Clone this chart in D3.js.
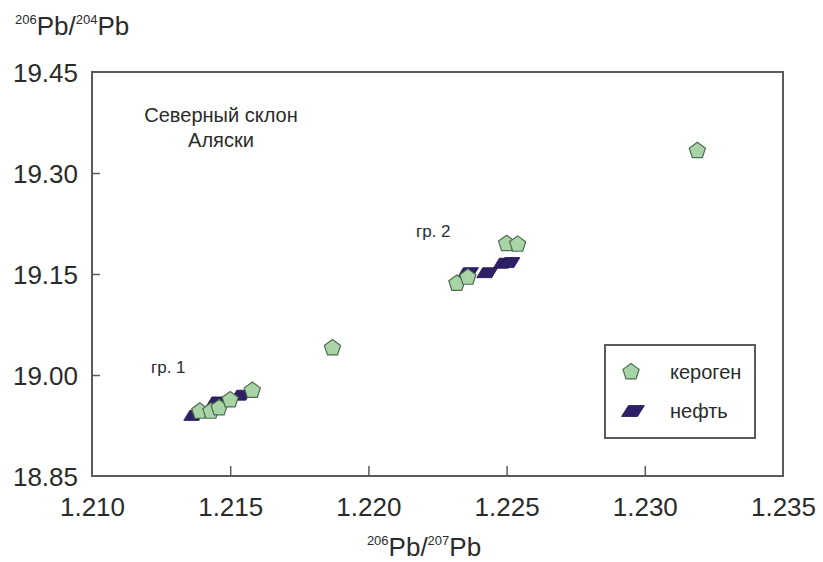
<!DOCTYPE html>
<html>
<head>
<meta charset="utf-8">
<script src="https://cdn.jsdelivr.net/npm/d3@7/dist/d3.min.js"></script>
<style>
  html, body { margin: 0; padding: 0; background: #fff; }
  svg { display: block; font-family: "Liberation Sans", Arial, sans-serif; }
</style>
</head>
<body>
<svg id="chart" width="823" height="562"></svg>
<script>
// Kerogen samples (206Pb/207Pb, 206Pb/204Pb)
const kerogenX = [1.2139, 1.2143, 1.2146, 1.2150, 1.2158, 1.2187, 1.2232, 1.2236, 1.2250, 1.2254, 1.2319];
const kerogenY = [18.946, 18.946, 18.951, 18.963, 18.977, 19.040, 19.136, 19.145, 19.195, 19.194, 19.333];

// Oil samples
const oilX = [1.2137, 1.2145, 1.2154, 1.2236, 1.2243, 1.2249, 1.2251];
const oilY = [18.940, 18.960, 18.970, 19.152, 19.152, 19.166, 19.167];

const xTicks = [1.210, 1.215, 1.220, 1.225, 1.230, 1.235];
const yTicks = [18.85, 19.00, 19.15, 19.30, 19.45];

const legendLabels = ["кероген", "нефть"];
const regionLabel = ["Северный склон", "Аляски"];
const groupLabels = ["гр. 1", "гр. 2"];

const svg = d3.select("#chart");
const plotLeft = 92, plotRight = 783, plotTop = 72, plotBottom = 476;

const x = d3.scaleLinear().domain([1.210, 1.235]).range([plotLeft, plotRight]);
const y = d3.scaleLinear().domain([18.85, 19.45]).range([plotBottom, plotTop]);

const axisColor = "#5a5a5a";
const textColor = "#2b2b2b";

// Frame
svg.append("rect")
  .attr("x", plotLeft).attr("y", plotTop)
  .attr("width", plotRight - plotLeft).attr("height", plotBottom - plotTop)
  .attr("fill", "none").attr("stroke", axisColor).attr("stroke-width", 2);

// Bottom axis, inward ticks
const gx = svg.append("g").attr("transform", `translate(0,${plotBottom})`)
  .call(d3.axisBottom(x).tickValues(xTicks).tickSize(-10).tickPadding(22)
    .tickFormat(d3.format(".3f")));
gx.select(".domain").remove();
gx.selectAll(".tick line").attr("stroke", axisColor).attr("stroke-width", 1.5);
gx.selectAll(".tick text").attr("fill", textColor).attr("font-size", 26)
  .attr("font-family", "Liberation Sans, Arial, sans-serif");
gx.selectAll(".tick").filter(d => d === 1.210 || d === 1.235).select("line").remove();

// Left axis, inward ticks
const gy = svg.append("g").attr("transform", `translate(${plotLeft},0)`)
  .call(d3.axisLeft(y).tickValues(yTicks).tickSize(-8).tickPadding(14)
    .tickFormat(d3.format(".2f")));
gy.select(".domain").remove();
gy.selectAll(".tick line").attr("stroke", axisColor).attr("stroke-width", 1.5);
gy.selectAll(".tick text").attr("fill", textColor).attr("font-size", 26)
  .attr("dy", "0.36em")
  .attr("font-family", "Liberation Sans, Arial, sans-serif");
gy.selectAll(".tick").filter(d => d === 18.85 || d === 19.45).select("line").remove();

// Axis titles with superscript mass numbers
function isoTitle(g, xPos, yPos, a, b, anchor) {
  const t = g.append("text").attr("x", xPos).attr("y", yPos)
    .attr("fill", textColor).attr("font-size", 26).attr("text-anchor", anchor);
  t.append("tspan").attr("font-size", 13).attr("dy", -11).text(a);
  t.append("tspan").attr("dy", 11).text("Pb/");
  t.append("tspan").attr("font-size", 13).attr("dy", -11).text(b);
  t.append("tspan").attr("dy", 11).text("Pb");
}
isoTitle(svg, 15, 35, "206", "204", "start");
isoTitle(svg, 424, 556, "206", "207", "middle");

// Region annotation
svg.append("text").attr("x", 221).attr("y", 122).attr("text-anchor", "middle")
  .attr("fill", textColor).attr("font-size", 20).text(regionLabel[0]);
svg.append("text").attr("x", 221).attr("y", 147).attr("text-anchor", "middle")
  .attr("fill", textColor).attr("font-size", 20).text(regionLabel[1]);

// Group labels
svg.append("text").attr("x", 151).attr("y", 373).attr("fill", textColor)
  .attr("font-size", 17).text(groupLabels[0]);
svg.append("text").attr("x", 416).attr("y", 237).attr("fill", textColor)
  .attr("font-size", 17).text(groupLabels[1]);

// Marker shapes
function pentagonPath(r) {
  const pts = d3.range(5).map(i => {
    const a = -Math.PI / 2 + i * 2 * Math.PI / 5;
    return [r * Math.cos(a), r * Math.sin(a)];
  });
  return "M" + pts.map(p => p.join(",")).join("L") + "Z";
}
function parallelogramPath(w, h, s) {
  return `M${-w/2 - s/2},${h/2}L${w/2 - s/2},${h/2}L${w/2 + s/2},${-h/2}L${-w/2 + s/2},${-h/2}Z`;
}
const pent = pentagonPath(8.5);
const para = parallelogramPath(15, 10, 6);

const kerogenFill = "#a9d4a7", kerogenStroke = "#4e6c4f";
const oilFill = "#2e1f66";

const oilData = oilX.map((v, i) => ({ x: v, y: oilY[i] }));
const kerData = kerogenX.map((v, i) => ({ x: v, y: kerogenY[i] }));

svg.append("g").selectAll("path").data(oilData).join("path")
  .attr("d", para)
  .attr("transform", d => `translate(${x(d.x)},${y(d.y)})`)
  .attr("fill", oilFill).attr("stroke", "#231650").attr("stroke-width", 0.8);

svg.append("g").selectAll("path").data(kerData).join("path")
  .attr("d", pent)
  .attr("transform", d => `translate(${x(d.x)},${y(d.y)})`)
  .attr("fill", kerogenFill).attr("stroke", kerogenStroke).attr("stroke-width", 1.2);

// Legend
const lg = svg.append("g");
lg.append("rect").attr("x", 605).attr("y", 345).attr("width", 150).attr("height", 93)
  .attr("fill", "#fff").attr("stroke", axisColor).attr("stroke-width", 2);
lg.append("path").attr("d", pent).attr("transform", "translate(631,372)")
  .attr("fill", kerogenFill).attr("stroke", kerogenStroke).attr("stroke-width", 1.2);
lg.append("path").attr("d", parallelogramPath(16, 11, 7)).attr("transform", "translate(633,411)")
  .attr("fill", oilFill).attr("stroke", "#231650").attr("stroke-width", 0.8);
lg.append("text").attr("x", 670).attr("y", 379).attr("fill", textColor)
  .attr("font-size", 20).text(legendLabels[0]);
lg.append("text").attr("x", 670).attr("y", 418).attr("fill", textColor)
  .attr("font-size", 20).text(legendLabels[1]);
</script>
</body>
</html>
